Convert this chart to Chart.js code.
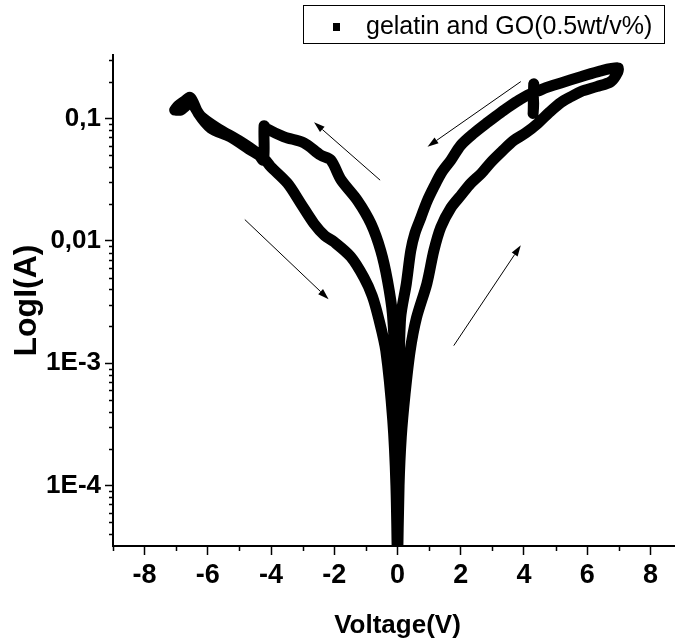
<!DOCTYPE html>
<html>
<head>
<meta charset="utf-8">
<script src="https://cdn.jsdelivr.net/npm/chart.js@4/dist/chart.umd.min.js"></script>
<style>
  html, body { margin: 0; padding: 0; background: #fff; overflow: hidden; }
  #wrap { position: relative; width: 682px; height: 641px; }
</style>
</head>
<body>
<div id="wrap"><canvas id="c"></canvas></div>
<script>
// I-V sweep of the gelatin/GO film, in sweep order.
// Sweep 0 V -> +7 V
const fwdPosV = [0.00, 0.05, 0.12, 0.24, 0.40, 0.60, 0.93, 1.15, 1.37, 1.69, 2.00, 2.32, 2.65, 2.95, 3.30, 3.68, 4.05, 4.44, 4.80, 5.17, 5.50, 5.80, 6.30, 6.75, 6.97];
const fwdPosI = [2.0e-5, 1.0e-4, 2.5e-4, 5.6e-4, 1.26e-3, 2.34e-3, 4.47e-3, 8.3e-3, 0.0129, 0.0186, 0.0234, 0.0295, 0.0355, 0.0437, 0.0537, 0.0661, 0.0759, 0.0912, 0.112, 0.135, 0.151, 0.166, 0.182, 0.200, 0.240];
// Sweep +7 V -> 0 V
const revPosV = [6.97, 6.43, 5.80, 5.17, 4.69, 4.34, 4.31, 4.29, 4.27, 3.80, 3.27, 2.86, 2.42, 2.00, 1.69, 1.40, 1.15, 0.93, 0.74, 0.55, 0.42, 0.28, 0.10, 0.05, 0.03, 0.00];
const revPosI = [0.259, 0.245, 0.219, 0.195, 0.178, 0.166, 0.191, 0.110, 0.158, 0.139, 0.112, 0.0933, 0.0759, 0.0603, 0.0457, 0.0363, 0.0275, 0.0209, 0.0155, 0.0115, 8.3e-3, 4.47e-3, 2.34e-3, 7.2e-4, 1.9e-4, 2.0e-5];
// Sweep 0 V -> -7 V
const fwdNegV = [0.00, -0.03, -0.06, -0.16, -0.32, -0.53, -0.84, -1.27, -1.79, -2.11, -2.43, -2.96, -3.59, -4.16, -4.22, -4.24, -4.43, -4.96, -5.70, -6.22, -6.54, -6.86, -7.05];
const fwdNegI = [2.0e-5, 1.9e-4, 7.2e-4, 2.51e-3, 4.79e-3, 8.3e-3, 0.0138, 0.0214, 0.0316, 0.0457, 0.0501, 0.0631, 0.0708, 0.0832, 0.0871, 0.0457, 0.0519, 0.0646, 0.0832, 0.104, 0.133, 0.117, 0.117];
// Sweep -7 V -> 0 V
const revNegV = [-7.05, -6.95, -6.75, -6.55, -6.30, -5.90, -5.30, -4.70, -4.22, -4.01, -3.48, -3.06, -2.64, -2.30, -2.01, -1.48, -1.06, -0.80, -0.60, -0.37, -0.15, -0.05, 0.00];
const revNegI = [0.117, 0.126, 0.138, 0.148, 0.110, 0.0832, 0.0708, 0.0562, 0.0468, 0.0403, 0.0295, 0.0202, 0.0138, 0.0110, 9.8e-3, 7.4e-3, 5.0e-3, 3.55e-3, 2.34e-3, 1.26e-3, 3.4e-4, 1.0e-4, 2.0e-5];

const seriesLabel = 'gelatin and GO(0.5wt/v%)';
const xTicks = [-8, -6, -4, -2, 0, 2, 4, 6, 8];
const yTicks = [1e-4, 1e-3, 1e-2, 1e-1];
const yTickLabels = ['1E-4', '1E-3', '0,01', '0,1'];

// Sweep-direction arrows: [V, I] of tail and head
const arrowTails = [[3.90, 0.200], [1.78, 1.39e-3], [-0.55, 0.0313], [-4.83, 0.0149]];
const arrowHeads = [[0.95, 0.0587], [3.90, 9.18e-3], [-2.64, 0.0931], [-2.18, 3.33e-3]];

function toPoints(vs, is) { return vs.map((v, k) => ({ x: v, y: is[k] })); }
const sweep = [].concat(
  toPoints(fwdPosV, fwdPosI),
  toPoints(revPosV, revPosI),
  toPoints(fwdNegV, fwdNegI),
  toPoints(revNegV, revNegI)
);

const FONT = '"Liberation Sans", Arial, Helvetica, sans-serif';

// Short minor ticks on both axes
const minorTicks = {
  id: 'minorTicks',
  afterDraw(chart) {
    const { ctx, scales: { x, y } } = chart;
    ctx.save();
    ctx.strokeStyle = '#000';
    ctx.lineWidth = 1.5;
    ctx.beginPath();
    for (let v = -9; v <= 9; v += 2) {
      if (v < x.min || v > x.max) continue;
      const px = Math.round(x.getPixelForValue(v)) + 0.5;
      ctx.moveTo(px, x.top);
      ctx.lineTo(px, x.top + 5);
    }
    for (let d = -6; d <= 0; d++) {
      for (let k = 2; k <= 9; k++) {
        const val = k * Math.pow(10, d);
        if (val < y.min || val > y.max) continue;
        const py = Math.round(y.getPixelForValue(val)) + 0.5;
        ctx.moveTo(y.right - 4, py);
        ctx.lineTo(y.right, py);
      }
    }
    ctx.stroke();
    ctx.restore();
  }
};

// Thin arrows with filled heads showing the sweep direction
const sweepArrows = {
  id: 'sweepArrows',
  afterDatasetsDraw(chart) {
    const { ctx, scales: { x, y } } = chart;
    ctx.save();
    ctx.strokeStyle = '#000';
    ctx.fillStyle = '#000';
    ctx.lineWidth = 1;
    arrowTails.forEach((t, k) => {
      const h = arrowHeads[k];
      const x0 = x.getPixelForValue(t[0]), y0 = y.getPixelForValue(t[1]);
      const x1 = x.getPixelForValue(h[0]), y1 = y.getPixelForValue(h[1]);
      const a = Math.atan2(y1 - y0, x1 - x0);
      const len = 11, half = 3.5;
      const bx = x1 - len * Math.cos(a), by = y1 - len * Math.sin(a);
      ctx.beginPath();
      ctx.moveTo(x0, y0);
      ctx.lineTo(bx, by);
      ctx.stroke();
      ctx.beginPath();
      ctx.moveTo(x1, y1);
      ctx.lineTo(bx + half * Math.sin(a), by - half * Math.cos(a));
      ctx.lineTo(bx - half * Math.sin(a), by + half * Math.cos(a));
      ctx.closePath();
      ctx.fill();
    });
    ctx.restore();
  }
};

// Boxed legend at the top right
const boxedLegend = {
  id: 'boxedLegend',
  afterDraw(chart) {
    const { ctx } = chart;
    ctx.save();
    ctx.strokeStyle = '#000';
    ctx.lineWidth = 1;
    ctx.strokeRect(303.5, 5.5, 361, 38);
    ctx.fillStyle = '#000';
    ctx.fillRect(333, 23, 7, 8);
    ctx.font = '25px ' + FONT;
    ctx.textBaseline = 'alphabetic';
    ctx.textAlign = 'left';
    ctx.fillText(chart.data.datasets[0].label, 366, 34);
    ctx.restore();
  }
};

new Chart(document.getElementById('c'), {
  type: 'scatter',
  data: {
    datasets: [{
      label: seriesLabel,
      data: sweep,
      showLine: true,
      borderColor: '#000',
      backgroundColor: '#000',
      borderWidth: 11,
      borderJoinStyle: 'round',
      borderCapStyle: 'round',
      tension: 0.3,
      pointRadius: 0,
      pointHoverRadius: 0,
      clip: 0
    }]
  },
  options: {
    responsive: true,
    maintainAspectRatio: false,
    animation: false,
    events: [],
    layout: { padding: { top: 55, left: 0, right: 0, bottom: 0 } },
    plugins: {
      legend: { display: false },
      tooltip: { enabled: false }
    },
    scales: {
      x: {
        type: 'linear',
        position: 'bottom',
        min: -9,
        max: 9,
        afterBuildTicks: (s) => { s.ticks = xTicks.map(v => ({ value: v })); },
        afterFit: (s) => { s.height = 95; },
        border: { display: true, color: '#000', width: 2 },
        grid: { drawOnChartArea: false, drawTicks: true, tickLength: 9, tickWidth: 1.5, tickColor: '#000' },
        ticks: {
          color: '#000',
          padding: 4,
          maxRotation: 0,
          font: { family: FONT, size: 27, weight: 'bold' },
          callback: (v) => String(v)
        },
        title: {
          display: true,
          text: 'Voltage(V)',
          color: '#000',
          padding: { top: 0, bottom: 0 },
          font: { family: FONT, size: 26, weight: 'bold' }
        }
      },
      y: {
        type: 'logarithmic',
        position: 'left',
        min: 3.2e-5,
        max: 0.33,
        afterBuildTicks: (s) => { s.ticks = yTicks.map(v => ({ value: v, major: true })); },
        afterFit: (s) => { s.width = 113; },
        border: { display: true, color: '#000', width: 2 },
        grid: { drawOnChartArea: false, drawTicks: true, tickLength: 8, tickWidth: 1.5, tickColor: '#000' },
        ticks: {
          color: '#000',
          padding: 4,
          font: { family: FONT, size: 26, weight: 'bold' },
          callback: (v) => {
            const k = yTicks.findIndex(t => Math.abs(t - v) / t < 1e-6);
            return k >= 0 ? yTickLabels[k] : '';
          }
        },
        title: {
          display: true,
          text: 'LogI(A)',
          color: '#000',
          padding: { top: 8, bottom: 0 },
          font: { family: FONT, size: 32, weight: 'bold' }
        }
      }
    }
  },
  plugins: [minorTicks, sweepArrows, boxedLegend]
});
</script>
</body>
</html>
